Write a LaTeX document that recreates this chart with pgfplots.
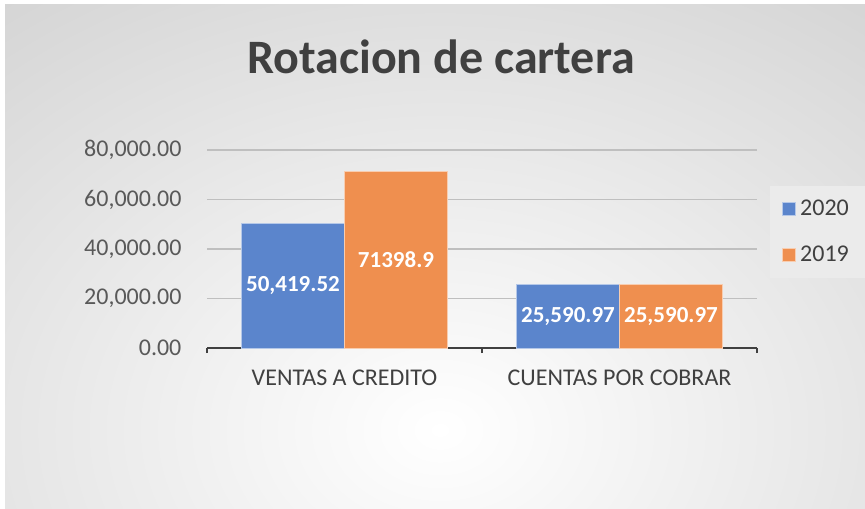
\documentclass[border=0pt]{standalone}
\usepackage{fontspec}
\setmainfont{Carlito}
\usepackage{pgfplots}
\usepackage{pgfplotstable}
\pgfplotsset{compat=1.18}
\definecolor{bblue}{HTML}{5B85CC}
\definecolor{borange}{HTML}{EF8F4F}
\definecolor{txtdark}{HTML}{404040}
\definecolor{txtgray}{HTML}{595959}

\pgfplotstableread{
x v2020 l2020 v2019 l2019
0 50419.52 {50,419.52} 71398.9 71398.9
1 25590.97 {25,590.97} 25590.97 {25,590.97}
}\datatable

\begin{document}
\begin{tikzpicture}
\useasboundingbox (0,0) rectangle (432.5pt,254pt);
\fill[white] (0,0) rectangle (432.5pt,254pt);
\begin{scope}
  \clip (2.5pt,0) rectangle (432.5pt,251.5pt);
  \fill[black!22] (2.5pt,0) rectangle (432.5pt,251.5pt);
  \shade[inner color=white, outer color=black!22] (-260pt,-321pt) rectangle (700pt,399pt);
\end{scope}

\node[font=\fontsize{24}{29}\selectfont\bfseries, text=txtdark] at (220.5pt,225.5pt) {Rotacion de cartera};

\begin{axis}[
  at={(103.5pt,80pt)}, anchor=south west,
  scale only axis, width=275pt, height=99pt,
  ybar, bar width=51.5pt,
  xmin=-0.5, xmax=1.5, ymin=0, ymax=80000,
  axis x line*=bottom, axis y line*=left,
  y axis line style={draw=none},
  x axis line style={draw=txtdark, line width=1.3pt},
  xtick={0,1}, xticklabels={VENTAS A CREDITO, CUENTAS POR COBRAR},
  major x tick style={draw=none},
  minor xtick={-0.5,0.5,1.5},
  minor x tick style={draw=txtdark, line width=1.3pt},
  minor tick length=2.5pt, tick align=outside,
  ytick={0,20000,40000,60000,80000},
  ytick style={draw=none},
  ymajorgrids, grid style={draw=black!25, line width=0.6pt},
  /pgf/number format/assume math mode=true,
  /pgf/number format/fixed,
  /pgf/number format/fixed zerofill,
  /pgf/number format/precision=2,
  /pgf/number format/1000 sep={,},
  scaled y ticks=false,
  yticklabel style={font=\fontsize{12}{14}\selectfont, text=txtgray, xshift=-5pt},
  xticklabel style={font=\fontsize{12}{14}\selectfont, text=txtdark, yshift=-3pt},
  legend style={at={(1.0236,0.818)}, anchor=north west, draw=none, fill=black!8,
    font=\fontsize{12}{14}\selectfont, text=txtdark, row sep=10pt,
    inner xsep=6pt, inner ysep=4.5pt},
  legend cell align=left,
  legend image code/.code={\fill[#1] (0pt,-3.25pt) rectangle (6.5pt,3.25pt);},
]
\addplot[fill=bblue, draw=white!55!bblue, line width=0.4pt, bar shift=-25.75pt] table[x=x, y=v2020]{\datatable};
\addplot[fill=borange, draw=white!55!borange, line width=0.4pt, bar shift=25.75pt] table[x=x, y=v2019]{\datatable};
\legend{2020\hspace{3pt}, 2019\hspace{3pt}}
\addplot[draw=none, fill=none, bar shift=-25.75pt, forget plot,
  nodes near coords, point meta=explicit symbolic,
  every node near coord/.append style={anchor=center, text=white, font=\fontsize{11.5}{13}\selectfont\bfseries}]
  table[x=x, y expr=\thisrow{v2020}/2, meta=l2020]{\datatable};
\addplot[draw=none, fill=none, bar shift=25.75pt, forget plot,
  nodes near coords, point meta=explicit symbolic,
  every node near coord/.append style={anchor=center, text=white, font=\fontsize{11.5}{13}\selectfont\bfseries}]
  table[x=x, y expr=\thisrow{v2019}/2, meta=l2019]{\datatable};
\end{axis}
\end{tikzpicture}
\end{document}
